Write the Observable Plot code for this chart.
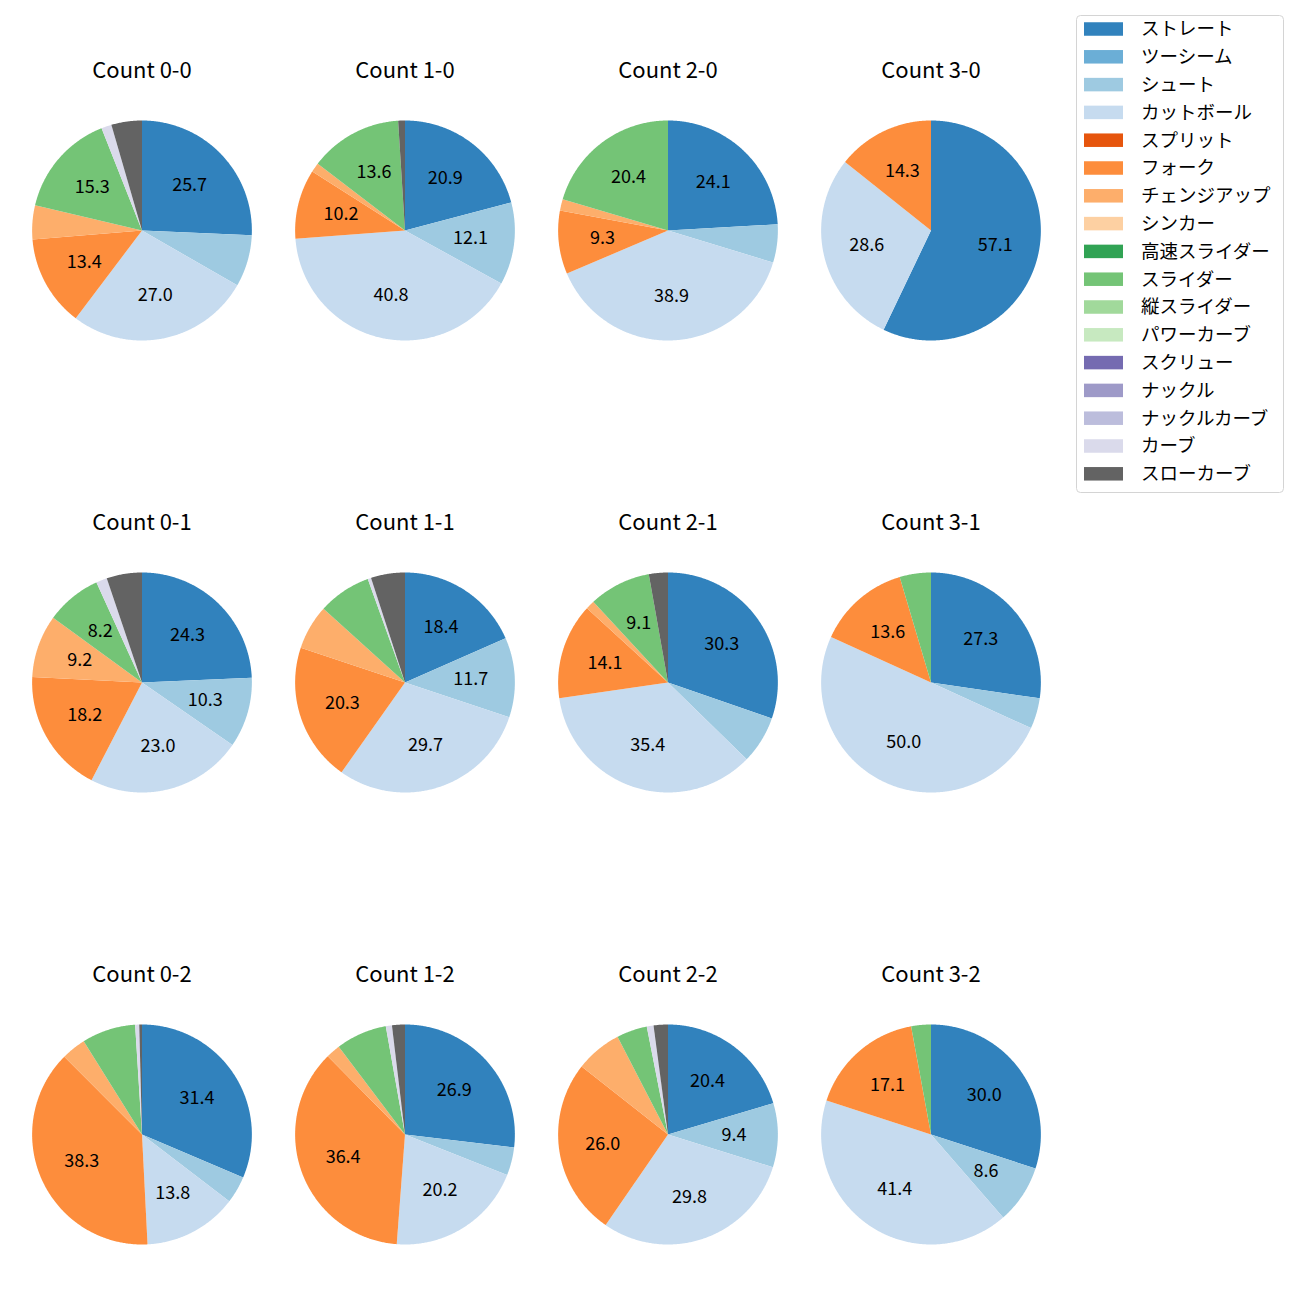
<!DOCTYPE html>
<html><head><meta charset="utf-8">
<script src="https://cdn.jsdelivr.net/npm/d3@7"></script>
<script src="https://cdn.jsdelivr.net/npm/@observablehq/plot@0.6"></script>
<style>
body{margin:0;background:#fff;}
#wrap{position:relative;width:1300px;height:1300px;font-family:'Noto Sans CJK JP',sans-serif;}
#legend{position:absolute;left:1076px;top:15px;}
</style></head><body><div id="wrap"><div id="chart"></div><div id="legend"></div></div>
<script>
const pitchTypes = ["ストレート","ツーシーム","シュート","カットボール","スプリット","フォーク","チェンジアップ","シンカー","高速スライダー","スライダー","縦スライダー","パワーカーブ","スクリュー","ナックル","ナックルカーブ","カーブ","スローカーブ"];
const pitchColors = ["#3182bd","#6baed6","#9ecae1","#c6dbef","#e6550d","#fd8d3c","#fdae6b","#fdd0a2","#31a354","#74c476","#a1d99b","#c7e9c0","#756bb1","#9e9ac8","#bcbddc","#dadaeb","#636363"];
const balls = ["0","1","2","3"];
const strikes = ["0","1","2"];
// shares (%) in pitchTypes order
const share_0_0 = [25.7,0,7.6,27.0,0,13.4,5.0,0,0,15.3,0,0,0,0,0,1.5,4.5];
const share_1_0 = [20.9,0,12.1,40.8,0,10.2,1.4,0,0,13.6,0,0,0,0,0,0,1.0];
const share_2_0 = [24.1,0,5.6,38.9,0,9.3,1.7,0,0,20.4,0,0,0,0,0,0,0];
const share_3_0 = [57.1,0,0,28.6,0,14.3,0,0,0,0,0,0,0,0,0,0,0];
const share_0_1 = [24.3,0,10.3,23.0,0,18.2,9.2,0,0,8.2,0,0,0,0,0,1.6,5.2];
const share_1_1 = [18.4,0,11.7,29.7,0,20.3,6.6,0,0,7.8,0,0,0,0,0,0.5,5.0];
const share_2_1 = [30.3,0,7.0,35.4,0,14.1,1.3,0,0,9.1,0,0,0,0,0,0,2.8];
const share_3_1 = [27.3,0,4.5,50.0,0,13.6,0,0,0,4.6,0,0,0,0,0,0,0];
const share_0_2 = [31.4,0,4.0,13.8,0,38.3,3.6,0,0,7.9,0,0,0,0,0,0.6,0.4];
const share_1_2 = [26.9,0,4.1,20.2,0,36.4,2.1,0,0,7.5,0,0,0,0,0,0.9,1.9];
const share_2_2 = [20.4,0,9.4,29.8,0,26.0,6.8,0,0,4.5,0,0,0,0,0,1.0,2.1];
const share_3_2 = [30.0,0,8.6,41.4,0,17.1,0,0,0,2.9,0,0,0,0,0,0,0];

const shareByCount = {
  "0-0": share_0_0, "1-0": share_1_0, "2-0": share_2_0, "3-0": share_3_0,
  "0-1": share_0_1, "1-1": share_1_1, "2-1": share_2_1, "3-1": share_3_1,
  "0-2": share_0_2, "1-2": share_1_2, "2-2": share_2_2, "3-2": share_3_2
};

const slicePoints = [], sliceLabels = [], panelTitles = [];
for (const s of strikes) for (const b of balls) {
  const key = `${b}-${s}`;
  const vals = shareByCount[key];
  const total = d3.sum(vals);
  panelTitles.push({b, s, title: `Count ${key}`});
  let acc = 0;
  vals.forEach((v, i) => {
    if (!(v > 0)) return;
    const a0 = acc / total * 2 * Math.PI; acc += v; const a1 = acc / total * 2 * Math.PI;
    const id = `${key}|${i}`, pitch = pitchTypes[i];
    slicePoints.push({b, s, id, pitch, x: 0, y: 0});
    const n = Math.max(2, Math.ceil((a1 - a0) / (Math.PI / 360)));
    for (let k = 0; k <= n; k++) {
      const a = a0 + (a1 - a0) * k / n;
      slicePoints.push({b, s, id, pitch, x: Math.sin(a), y: Math.cos(a)});
    }
    if (v >= 8) {
      const am = (a0 + a1) / 2;
      sliceLabels.push({b, s, x: 0.6 * Math.sin(am), y: 0.6 * Math.cos(am), text: v.toFixed(1)});
    }
  });
}

const chart = Plot.plot({
  width: 1300, height: 1300,
  marginLeft: 9.33, marginRight: 237.33, marginTop: 52, marginBottom: 43,
  fx: {domain: balls, padding: 0, axis: null},
  fy: {domain: strikes, paddingInner: 0.337, paddingOuter: 0, axis: null},
  x: {domain: [-1.19697, 1.19697], axis: null},
  y: {domain: [-1.1182, 1.6091], axis: null},
  color: {domain: pitchTypes, range: pitchColors},
  style: {fontFamily: "'Noto Sans CJK JP', sans-serif", background: "white", color: "black"},
  marks: [
    Plot.line(slicePoints, {x: "x", y: "y", z: "id", fill: "pitch", stroke: "none", curve: "linear", fx: "b", fy: "s"}),
    Plot.text(sliceLabels, {x: "x", y: "y", text: "text", fx: "b", fy: "s", fontSize: 18, fill: "black"}),
    Plot.text(panelTitles, {frameAnchor: "top", dy: 17, text: "title", fx: "b", fy: "s", fontSize: 22, fill: "black", lineAnchor: "middle"})
  ]
});
document.getElementById("chart").appendChild(chart);

// legend
const lg = d3.select("#legend").append("svg").attr("width", 209).attr("height", 479)
  .style("font-family", "'Noto Sans CJK JP', sans-serif");
lg.append("rect").attr("x", 0.5).attr("y", 0.5).attr("width", 207).attr("height", 477)
  .attr("rx", 4).attr("fill", "white").attr("stroke", "#d4d4d4");
const items = lg.selectAll("g.item").data(pitchTypes).join("g")
  .attr("transform", (d, i) => `translate(0,${14 + i * 27.8})`);
items.append("rect").attr("x", 8).attr("y", -6.75).attr("width", 39).attr("height", 13.5)
  .attr("fill", (d, i) => pitchColors[i]);
items.append("text").attr("x", 65).attr("dy", "0.35em").attr("font-size", 18.5).attr("fill", "black").text(d => d);
</script>
</body></html>
